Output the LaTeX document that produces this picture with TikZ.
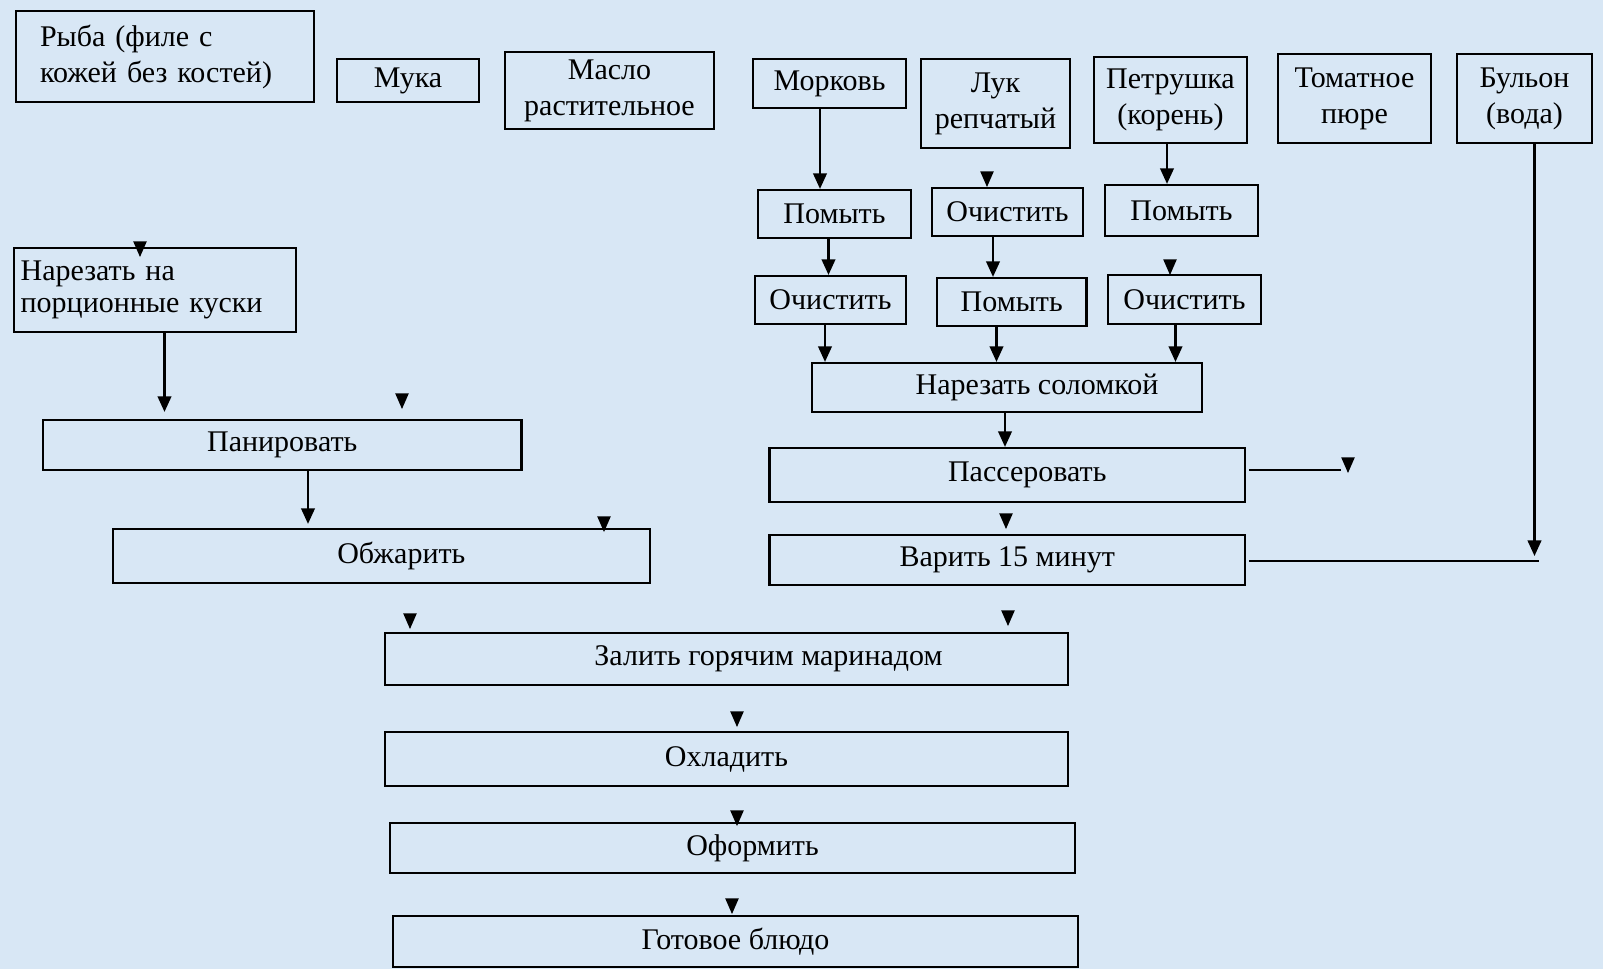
\documentclass[tikz,border=0pt]{standalone}
\usepackage{fontspec}
\setmainfont{Liberation Serif}
\usetikzlibrary{arrows.meta}
\definecolor{bgc}{RGB}{216,231,245}
\newcommand\ahd[1]{\fill[black] (#1) -- ++(-3.4pt,7.8pt) -- ++(6.8pt,0pt) -- cycle;}
\begin{document}
\begin{tikzpicture}[x=0.5pt,y=-0.5pt,
  box/.style={draw=black, line width=1.1pt, inner sep=0pt, align=center,
    font=\fontsize{15}{18}\selectfont},
  arr/.style={line width=1.1pt, -{Triangle[width=6.8pt,length=7.8pt]}},
  ln/.style={line width=1.1pt}]
\fill[bgc] (0,0) rectangle (1603,969);
\useasboundingbox (0,0) rectangle (1603,969);

% top row
\node[box, minimum width=149pt, minimum height=45.5pt, text width=125pt, align=left, inner xsep=12pt] (ryba) at (165,56.5) {Рыба (филе с\\кожей без костей)};
\node[box, minimum width=71pt, minimum height=21.5pt] (muka) at (408,80.5) {Мука};
\node[box, minimum width=104.5pt, minimum height=38.5pt] (maslo) at (609.5,90.5) {Масло\\растительное};
\node[box, minimum width=76.5pt, minimum height=24.5pt] (mork) at (829.5,83.5) {Морковь};
\node[box, minimum width=74.5pt, minimum height=44.5pt] (luk) at (995.5,103.5) {Лук\\репчатый};
\node[box, minimum width=76.5pt, minimum height=43pt] (petr) at (1170.5,100) {Петрушка\\(корень)};
\node[box, minimum width=76.5pt, minimum height=44.5pt] (tomat) at (1354.5,98.5) {Томатное\\пюре};
\node[box, minimum width=67.5pt, minimum height=44.5pt] (bul) at (1524.5,98.5) {Бульон\\(вода)};

% vegetables
\node[box, minimum width=76.5pt, minimum height=24pt] (m1) at (834.5,214) {Помыть};
\node[box, minimum width=75.5pt, minimum height=24pt] (l1) at (1007.5,212) {Очистить};
\node[box, minimum width=76.5pt, minimum height=25.5pt] (p1) at (1181.5,210.5) {Помыть};
\node[box, minimum width=75.5pt, minimum height=24pt] (m2) at (830.5,300) {Очистить};
\node[box, minimum width=74.75pt, minimum height=24pt] (l2) at (1011.75,302) {Помыть};
\node[box, minimum width=76.5pt, minimum height=24.5pt] (p2) at (1184.5,299.5) {Очистить};
\node[box, minimum width=195pt, minimum height=24.5pt] (solom) at (1007,387.5) {\hspace*{30pt}Нарезать соломкой};
\node[box, minimum width=237.75pt, minimum height=27pt] (pass) at (1007.25,475) {\hspace*{20pt}Пассеровать};
\node[box, minimum width=237.75pt, minimum height=25pt] (var) at (1007.25,560) {Варить 15 минут};

% fish
\node[box, minimum width=141pt, minimum height=42pt, text width=134pt, align=left, inner xsep=3.5pt,
  font=\fontsize{15}{16}\selectfont] (narez) at (154.65,290) {Нарезать на\\порционные куски};
\node[box, minimum width=239.25pt, minimum height=25pt] (pan) at (282.25,445) {Панировать};
\node[box, minimum width=268.7pt, minimum height=27pt] (obzh) at (381.3,556) {\hspace*{20pt}Обжарить};

% final
\node[box, minimum width=341.5pt, minimum height=26pt] (zal) at (726.5,659) {\hspace*{42pt}Залить горячим маринадом};
\node[box, minimum width=341.5pt, minimum height=27pt] (ohl) at (726.5,759) {Охладить};
\node[box, minimum width=342.5pt, minimum height=25pt] (oform) at (732.5,848) {\hspace*{20pt}Оформить};
\node[box, minimum width=342.5pt, minimum height=25.5pt] (gotov) at (735.5,941.5) {Готовое блюдо};

% connectors
\draw[arr] (mork.south -| 820,0) -- (m1.north -| 820,0);
\draw[arr] (petr.south -| 1167,0) -- (p1.north -| 1167,0);
\draw[arr] (m1.south -| 828.5,0) -- (m2.north -| 828.5,0);
\draw[arr] (l1.south -| 993,0) -- (l2.north -| 993,0);
\draw[arr] (m2.south -| 825,0) -- (solom.north -| 825,0);
\draw[arr] (l2.south -| 996.5,0) -- (solom.north -| 996.5,0);
\draw[arr] (p2.south -| 1175.5,0) -- (solom.north -| 1175.5,0);
\draw[arr] (solom.south -| 1005,0) -- (pass.north -| 1005,0);
\draw[arr, shorten >=3.5pt] (narez.south -| 164.5,0) -- (pan.north -| 164.5,0);
\draw[arr, shorten >=2pt] (pan.south -| 308,0) -- (obzh.north -| 308,0);

\coordinate (bj) at (1534.5,556);
\coordinate (ve) at (1249,561);
\coordinate (vend) at (1539,561);
\draw[arr] (bul.south -| bj) -- (bj);
\draw[ln] (ve) -- (vend);
\coordinate (pe) at (1249,470);
\coordinate (pend) at (1341,470);
\draw[ln] (pe) -- (pend);

% isolated arrowheads
\ahd{140,257}
\ahd{402,409}
\ahd{987,187}
\ahd{1170,275}
\ahd{1348,473}
\ahd{604,532}
\ahd{1006,529}
\ahd{410,629}
\ahd{1008,626}
\ahd{737,727}
\ahd{737,826}
\ahd{732,914}
\end{tikzpicture}
\end{document}
